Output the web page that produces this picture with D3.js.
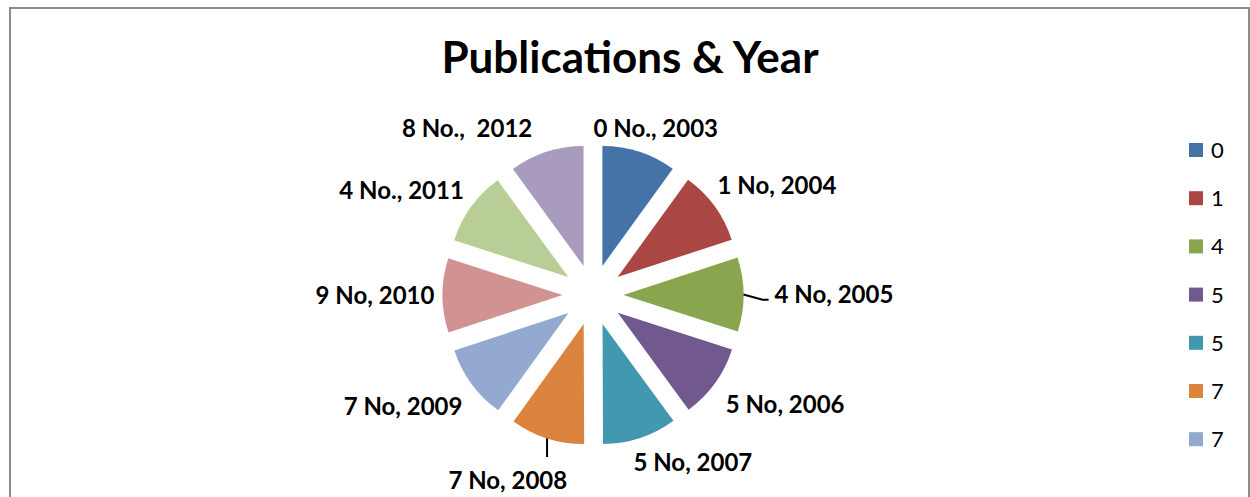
<!DOCTYPE html>
<html>
<head>
<meta charset="utf-8">
<script src="https://cdn.jsdelivr.net/npm/d3@7"></script>
<style>
  body { margin: 0; background: #fff; }
  text { font-family: Lato, "Open Sans", sans-serif; white-space: pre; }
</style>
</head>
<body>
<svg id="chart" width="1250" height="497"></svg>
<script>
// data
var years = [2003, 2004, 2005, 2006, 2007, 2008, 2009, 2010, 2011, 2012];
var counts = [0, 1, 4, 5, 5, 7, 7, 9, 4, 8];
var labels = ["0 No., 2003", "1 No, 2004", "4 No, 2005", "5 No, 2006", "5 No, 2007",
              "7 No, 2008", "7 No, 2009", "9 No, 2010", "4 No., 2011", "8 No.,  2012"];
var colors = ["#4572A7", "#AA4643", "#89A54E", "#71588F", "#4198AF",
              "#DB843D", "#93A9CF", "#D19392", "#B9CD96", "#A99BBD"];

// layout of the labels (distance from centre, turn from slice middle in degrees)
var labelDist = [178, 214, 241, 221, 195, 204, 220, 218, 218, 209];
var labelTurn = [2.7, 5.4, 0, -6.2, -12.6, 6.9, 5.9, 0, -7.3, -19];

var svg = d3.select("#chart");
var cx = 593, cy = 295, radius = 120, explode = 30.5;

// chart frame
svg.append("rect")
  .attr("x", 10).attr("y", 8)
  .attr("width", 1239).attr("height", 600)
  .attr("fill", "none")
  .attr("stroke", "#8c8c8c")
  .attr("stroke-width", 2);

svg.append("text")
  .attr("x", 630).attr("y", 73)
  .attr("text-anchor", "middle")
  .attr("font-size", 44)
  .attr("font-weight", "bold")
  .text("Publications & Year");

var pie = d3.pie().sort(null).value(function(d) { return d; });
var arcs = pie(years);
var arc = d3.arc().innerRadius(0).outerRadius(radius);

function polar(a, r) {
  return [Math.sin(a) * r, -Math.cos(a) * r];
}

var g = svg.append("g").attr("transform", "translate(" + cx + "," + cy + ")");

g.selectAll("path.slice")
  .data(arcs)
  .enter()
  .append("path")
  .attr("class", "slice")
  .attr("fill", function(d, i) { return colors[i]; })
  .attr("d", arc)
  .attr("transform", function(d) {
    var p = polar((d.startAngle + d.endAngle) / 2, explode);
    return "translate(" + p[0] + "," + p[1] + ")";
  });

// labels
var lab = g.selectAll("text.lab")
  .data(arcs)
  .enter()
  .append("text")
  .attr("class", "lab")
  .attr("text-anchor", "middle")
  .attr("font-size", 24)
  .attr("font-weight", "bold")
  .attr("x", function(d, i) {
    var a = (d.startAngle + d.endAngle) / 2 + labelTurn[i] * Math.PI / 180;
    return polar(a, labelDist[i])[0];
  })
  .attr("y", function(d, i) {
    var a = (d.startAngle + d.endAngle) / 2 + labelTurn[i] * Math.PI / 180;
    return polar(a, labelDist[i])[1];
  })
  .attr("dy", "0.36em")
  .text(function(d, i) { return labels[i]; });

// leader lines for labels that sit away from their slice
lab.each(function(d, i) {
  var box = this.getBBox();
  var mid = (d.startAngle + d.endAngle) / 2;
  var p = polar(mid, explode + radius);
  var x0 = box.x - 6, x1 = box.x + box.width + 6;
  var y0 = box.y - 8, y1 = box.y + box.height + 6;
  var qx = Math.max(x0, Math.min(p[0], x1));
  var qy = Math.max(y0, Math.min(p[1], y1));
  var dist = Math.hypot(qx - p[0], qy - p[1]);
  if (dist > 12) {
    var pts;
    if (qx === x0 || qx === x1) {
      var ly = box.y + box.height * 0.72;
      var sx = qx === x0 ? -6 : 6;
      pts = [p, [qx + sx, ly], [qx, ly]];
    } else {
      pts = [p, [qx, qy]];
    }
    g.append("path")
      .attr("d", d3.line()(pts))
      .attr("fill", "none")
      .attr("stroke", "#000")
      .attr("stroke-width", 2);
  }
});

// legend (only the entries that fit in the plot height)
var legendY = d3.scalePoint()
  .domain(d3.range(counts.length))
  .range([150, 150 + 48.2 * (counts.length - 1)]);

var shown = d3.range(counts.length).filter(function(i) { return legendY(i) < 460; });

var leg = svg.append("g").selectAll("g")
  .data(shown)
  .enter()
  .append("g")
  .attr("transform", function(i) { return "translate(1189," + legendY(i) + ")"; });

leg.append("rect")
  .attr("x", 0).attr("y", -7)
  .attr("width", 14).attr("height", 14)
  .attr("fill", function(i) { return colors[i]; });

leg.append("text")
  .attr("x", 22).attr("y", 0)
  .attr("dy", "0.36em")
  .attr("font-size", 22)
  .text(function(i) { return counts[i]; });
</script>
</body>
</html>
